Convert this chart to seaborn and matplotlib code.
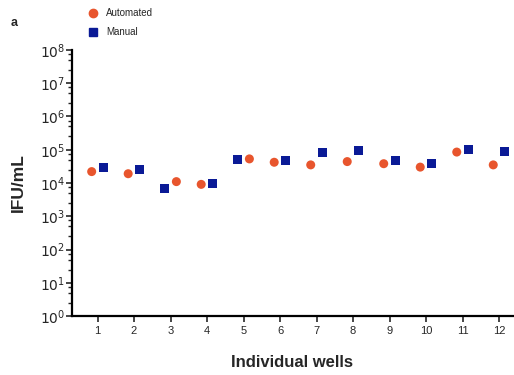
import numpy as np
import pandas as pd
import matplotlib
matplotlib.use("Agg")
import matplotlib.pyplot as plt
import matplotlib.ticker as mticker
import seaborn as sns

# dados
wells = [1, 2, 3, 4, 5, 6, 7, 8, 9, 10, 11, 12]
automated = [2.2e4, 1.9e4, 1.1e4, 9.1e3, 5.3e4, 4.2e4, 3.5e4, 4.4e4, 3.8e4, 3.0e4, 8.5e4, 3.5e4]
manual = [3.0e4, 2.6e4, 6.7e3, 9.8e3, 5.2e4, 4.7e4, 8.5e4, 9.3e4, 4.6e4, 3.9e4, 1.02e5, 9.1e4]
# lado de cada ponto dentro do poço (-1 esquerda, +1 direita) para os automatizados
auto_side = [-1, -1, 1, -1, 1, -1, -1, -1, -1, -1, -1, -1]

COR_AUTO = "#E8552D"
COR_MAN = "#0A1A96"
DESLOC = 0.16

sns.set_theme(style="ticks")
plt.rcParams["font.family"] = ["Liberation Sans", "DejaVu Sans"]

df = pd.concat([
    pd.DataFrame({"x": np.array(wells) + DESLOC * np.array(auto_side),
                  "y": automated, "grupo": "Automated"}),
    pd.DataFrame({"x": np.array(wells) - DESLOC * np.array(auto_side),
                  "y": manual, "grupo": "Manual"}),
])

fig = plt.figure(figsize=(5.14, 3.75), dpi=100)
ax = fig.add_axes([0.140, 0.157, 0.858, 0.710])

sns.scatterplot(data=df, x="x", y="y", hue="grupo", style="grupo",
                markers={"Automated": "o", "Manual": "s"},
                palette={"Automated": COR_AUTO, "Manual": COR_MAN},
                s=42, linewidth=0, ax=ax, legend=False)

ax.set_yscale("log")
ax.set_ylim(1, 1e8)
ax.set_xlim(0.30, 12.38)
ax.set_xticks(wells)
ax.set_xticklabels([str(w) for w in wells], fontsize=8)
ax.yaxis.set_major_locator(mticker.LogLocator(base=10, numticks=20))
ax.yaxis.set_minor_locator(mticker.LogLocator(base=10, subs=(2.5, 5.0, 7.5), numticks=20))
ax.yaxis.set_minor_formatter(mticker.NullFormatter())
ax.yaxis.set_major_formatter(mticker.FuncFormatter(lambda v, p: r"$10^{%d}$" % round(np.log10(v))))
ax.tick_params(axis="y", labelsize=10, length=4, width=1.2, pad=1)
ax.tick_params(axis="y", which="minor", length=3, width=1)
ax.tick_params(axis="x", length=4, width=1.2, pad=3)

for s in ["top", "right"]:
    ax.spines[s].set_visible(False)
for s in ["left", "bottom"]:
    ax.spines[s].set_linewidth(1.6)
    ax.spines[s].set_color("black")

ax.set_xlabel("Individual wells", fontsize=12, fontweight="bold", labelpad=14)
ax.set_ylabel("IFU/mL", fontsize=12.5, fontweight="bold", labelpad=10)

# legenda manual no topo
fig.text(0.02, 0.94, "a", fontsize=9, fontweight="bold", ha="left", va="center")
fig.lines.append(plt.Line2D([0.181], [0.965], marker="o", color=COR_AUTO, markersize=6,
                            linestyle="", transform=fig.transFigure))
fig.lines.append(plt.Line2D([0.181], [0.915], marker="s", color=COR_MAN, markersize=6,
                            linestyle="", transform=fig.transFigure))
fig.text(0.206, 0.965, "Automated", fontsize=7, ha="left", va="center")
fig.text(0.206, 0.915, "Manual", fontsize=7, ha="left", va="center")

plt.savefig("out.png", dpi=100)
